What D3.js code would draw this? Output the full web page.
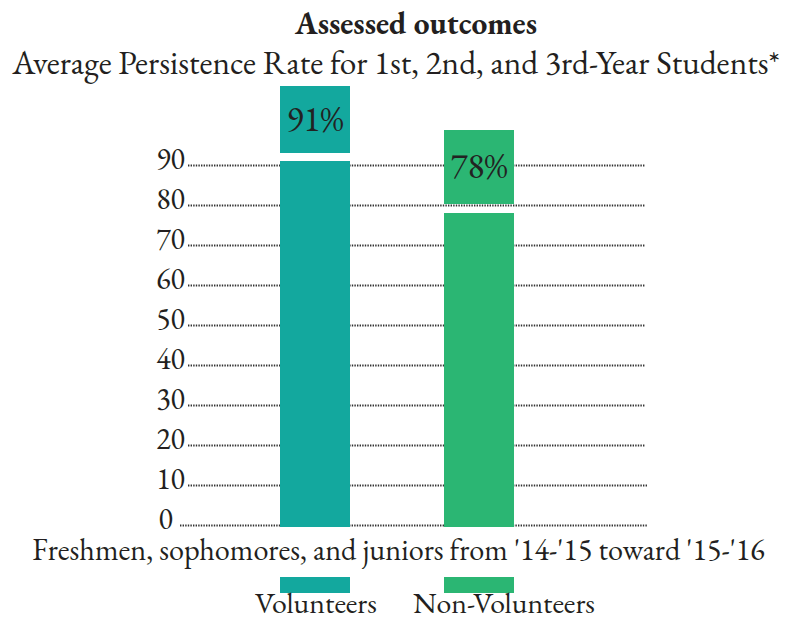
<!DOCTYPE html>
<html>
<head>
<meta charset="utf-8">
<script src="https://cdn.jsdelivr.net/npm/d3@7/dist/d3.min.js"></script>
<style>
  html, body { margin: 0; padding: 0; background: #fff; }
  svg { display: block; }
</style>
</head>
<body>
<svg id="chart" width="793" height="619" style="font-family: 'EB Garamond', 'Liberation Serif', serif;"></svg>
<script>
// ---- data ----
const categories = ["Volunteers", "Non-Volunteers"];
const values = [91, 78];
const valueLabels = ["91%", "78%"];
const tickValues = [0, 10, 20, 30, 40, 50, 60, 70, 80, 90];
const titleText = "Assessed outcomes";
const subtitleText = "Average Persistence Rate for 1st, 2nd, and 3rd-Year Students*";
const xAxisLabel = "Freshmen, sophomores, and juniors from '14-'15 toward '15-'16";

// ---- style / layout ----
const FONT = "'EB Garamond', 'Liberation Serif', serif";
const INK = "#231f20";
const colors = ["#13a89e", "#2bb673"];
const labelBoxHeights = [67, 74];
const boxGap = [8, 9];
const legendTextCenters = [316, 504];

const svg = d3.select("#chart");

const y = d3.scaleLinear().domain([0, 90]).range([525, 165]);
const x = d3.scaleBand().domain(categories).range([280, 514]).paddingInner(94 / 164).paddingOuter(0);

function txt(parent) {
  return parent.append("text").style("font-family", FONT).style("fill", INK);
}
function fit(sel, target, size) {
  sel.style("font-size", size + "px");
  const L = sel.node().getComputedTextLength();
  sel.style("font-size", (size * target / L) + "px");
  return sel;
}

// Titles
fit(txt(svg).attr("x", 416).attr("y", 34).attr("text-anchor", "middle")
  .style("font-weight", "bold").text(titleText), 242, 26);
fit(txt(svg).attr("x", 396).attr("y", 74).attr("text-anchor", "middle")
  .text(subtitleText), 768, 28);

// Gridlines (dotted)
const gridStart = v => v === 0 ? 180 : 188;
const gridEnd = v => (v <= 10 ? 648 : 645);
svg.append("g").selectAll("line").data(tickValues).join("line")
  .attr("x1", d => gridStart(d)).attr("x2", d => gridEnd(d))
  .attr("y1", d => y(d) + 0.5).attr("y2", d => y(d) + 0.5)
  .attr("stroke", "#333").attr("stroke-width", 2)
  .attr("stroke-dasharray", "1.4,1.2");

// Y axis labels
const yAxis = svg.append("g").attr("transform", "translate(185,0)")
  .call(d3.axisLeft(y).tickValues(tickValues).tickSize(0).tickPadding(0).tickFormat(d3.format("d")));
yAxis.select(".domain").remove();
yAxis.attr("font-family", null).attr("font-size", null);
yAxis.selectAll("text")
  .attr("dy", "3")
  .attr("x", d => d === 0 ? -12 : 0)
  .style("font-size", "30px")
  .style("font-family", FONT)
  .style("fill", INK);

// Bars
svg.append("g").selectAll("rect").data(categories).join("rect")
  .attr("x", d => x(d)).attr("width", x.bandwidth())
  .attr("y", (d, i) => y(values[i]))
  .attr("height", (d, i) => y(0) + 2 - y(values[i]))
  .attr("fill", (d, i) => colors[i]);

// Value label boxes
const boxes = svg.append("g").selectAll("g").data(categories).join("g");
boxes.append("rect")
  .attr("x", d => x(d)).attr("width", x.bandwidth())
  .attr("y", (d, i) => y(values[i]) - boxGap[i] - labelBoxHeights[i])
  .attr("height", (d, i) => labelBoxHeights[i])
  .attr("fill", (d, i) => colors[i]);
boxes.each(function (d, i) {
  fit(txt(d3.select(this))
    .attr("x", x(d) + x.bandwidth() / 2)
    .attr("y", y(values[i]) - boxGap[i] - labelBoxHeights[i] / 2 + 11)
    .attr("text-anchor", "middle")
    .style("fill", "#222")
    .text(valueLabels[i]), 57, 31);
});

// X axis label
fit(txt(svg).attr("x", 398.5).attr("y", 560).attr("text-anchor", "middle")
  .text(xAxisLabel), 733, 28);

// Legend
const leg = svg.append("g").selectAll("g").data(categories).join("g");
leg.append("rect")
  .attr("x", d => x(d)).attr("width", x.bandwidth())
  .attr("y", 577).attr("height", 16)
  .attr("fill", (d, i) => colors[i]);
leg.each(function (d, i) {
  fit(txt(d3.select(this))
    .attr("x", legendTextCenters[i])
    .attr("y", 613)
    .attr("text-anchor", "middle")
    .text(d), i === 0 ? 122 : 182, 28);
});
</script>
</body>
</html>
